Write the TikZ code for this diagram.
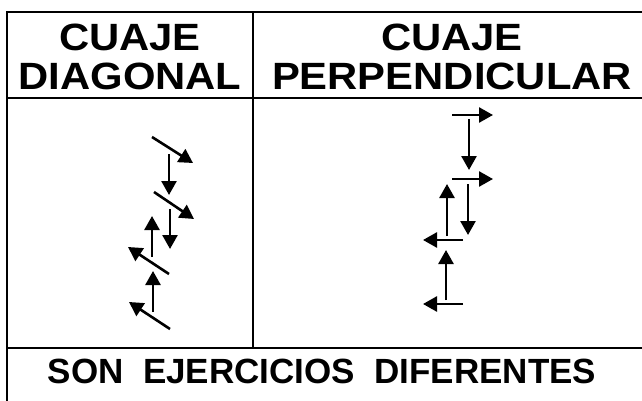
\documentclass[tikz,border=0pt]{standalone}
\usepackage{fontspec}
\setmainfont{Liberation Sans}
\usetikzlibrary{arrows.meta}

\newcommand{\ancho}[1]{\scalebox{1.1}[1]{#1}}

\tikzset{
    rule/.style={line width=2.4pt},
    flecha/.style={line width=2.6pt, -{Triangle[length=14pt, width=15pt]}},
    titulo/.style={anchor=base, inner sep=0pt, font=\fontsize{38}{38}\selectfont\bfseries},
    pie/.style={anchor=base, inner sep=0pt, font=\fontsize{35}{40}\selectfont\bfseries}
}

\begin{document}
\begin{tikzpicture}[x=1pt, y=-1pt]
        \useasboundingbox (0,0) rectangle (642,401);

        \coordinate (A) at (7,12);
        \coordinate (B) at (642,12);
        \coordinate (C) at (7,401);
        \coordinate (D) at (253,12);
        \coordinate (E) at (253,348);

        % table
        \draw[rule] (B) -- (A) -- (C);
        \draw[rule] (D) -- (E);
        \draw[rule] (7,98) -- (642,98);
        \draw[rule] (7,348) -- (642,348);

        % headers
        \node[titulo] (cuajeL) at (130,51) {\ancho{CUAJE}};
        \node[titulo] (diagL) at (130,90) {\ancho{DIAGONAL}};
        \node[titulo] (cuajeR) at (452,51) {\ancho{CUAJE}};
        \node[titulo] (perpR) at (452,90) {\ancho{PERPENDICULAR}};

        % cuaje diagonal
        \draw[flecha] (152,137) -- (193,163);
        \draw[flecha] (169,154) -- (169,195);
        \draw[flecha] (154,192) -- (194,219);
        \draw[flecha] (170,209) -- (170,249);
        \draw[flecha] (152,257) -- (152,216);
        \draw[flecha] (169,274) -- (128,247);
        \draw[flecha] (153,312) -- (153,271);
        \draw[flecha] (170,329) -- (129,302);

        % cuaje perpendicular
        \draw[flecha] (452,115) -- (493,115);
        \draw[flecha] (469,119) -- (469,170);
        \draw[flecha] (452,179) -- (493,179);
        \draw[flecha] (468,184) -- (468,235);
        \draw[flecha] (447,236) -- (447,184);
        \draw[flecha] (463,240) -- (423,240);
        \draw[flecha] (446,300) -- (446,250);
        \draw[flecha] (463,304) -- (423,304);

        \node[pie] (fin) at (322,383) {SON\ \ EJERCICIOS\ \ DIFERENTES};

    \end{tikzpicture}
\end{document}
